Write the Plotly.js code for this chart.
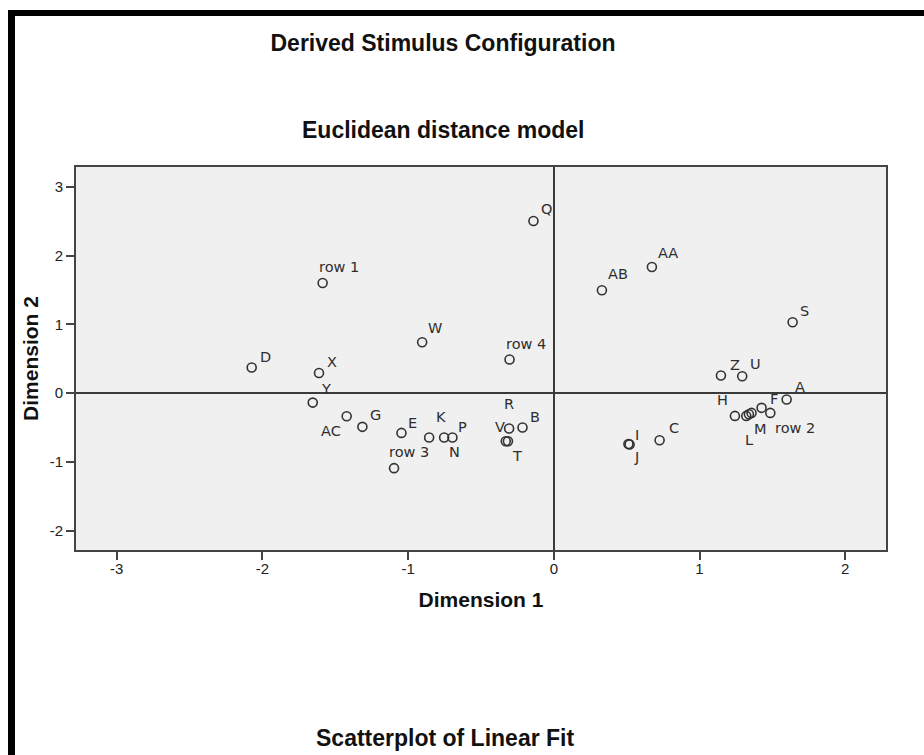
<!DOCTYPE html>
<html>
<head>
<meta charset="utf-8">
<script src="https://cdn.plot.ly/plotly-3.0.1.min.js"></script>
<style>
  html, body { margin: 0; padding: 0; background: #ffffff; }
  #chart { width: 924px; height: 755px; }
</style>
</head>
<body>
<div id="chart"></div>
<script>
// ---- data ----
const stimulusNames = ["D", "row 1", "Q", "W", "row 4", "X", "AB", "AA", "S", "Z", "U",
  "Y", "AC", "G", "E", "row 3", "K", "N", "P", "R", "B", "V", "T",
  "I", "J", "C", "H", "L", "O", "M", "F", "row 2", "A"];
const dimension1 = [-2.074, -1.587, -0.140, -0.904, -0.304, -1.612, 0.330, 0.673, 1.639, 1.147, 1.293,
  -1.655, -1.422, -1.314, -1.046, -1.097, -0.856, -0.753, -0.696, -0.307, -0.215, -0.330, -0.315,
  0.512, 0.520, 0.726, 1.243, 1.321, 1.339, 1.357, 1.426, 1.486, 1.598];
const dimension2 = [0.374, 1.603, 2.505, 0.741, 0.490, 0.295, 1.497, 1.836, 1.032, 0.257, 0.247,
  -0.136, -0.334, -0.489, -0.577, -1.090, -0.644, -0.644, -0.644, -0.514, -0.499, -0.698, -0.698,
  -0.738, -0.744, -0.683, -0.330, -0.330, -0.305, -0.286, -0.213, -0.286, -0.092];
const xTickVals = [-3, -2, -1, 0, 1, 2];
const xTickText = ["-3", "-2", "-1", "0", "1", "2"];
const yTickVals = [-2, -1, 0, 1, 2, 3];
const yTickText = ["-2", "-1", "0", "1", "2", "3"];

// ---- label placement (layout only): [dx px, dy px (text centre), anchor] ----
const labelPlacement = {
  "D": [7, -11, "left"], "row 1": [-5, -16, "left"], "Q": [7, -12, "left"], "W": [5, -14, "left"],
  "row 4": [-5, -16, "left"], "X": [7, -11, "left"], "AB": [5, -16, "left"], "AA": [5, -14, "left"],
  "S": [6, -11, "left"], "Z": [8, -11, "left"], "U": [7, -12, "left"], "Y": [7, -14, "left"],
  "AC": [-5, 15, "right"], "G": [7, -12, "left"], "E": [6, -10, "left"], "row 3": [-6, -16, "left"],
  "K": [6, -21, "left"], "N": [4, 14, "left"], "P": [5, -11, "left"], "R": [0, -25, "center"],
  "B": [6, -11, "left"], "V": [0, -14, "right"], "T": [3, 15, "left"], "I": [6, -9, "left"],
  "J": [3, 13, "left"], "C": [8, -12, "left"], "H": [-6, -16, "right"], "L": [-2, 24, "left"],
  "M": [1, 16, "left"], "F": [7, -9, "left"], "row 2": [4, 15, "left"], "A": [7, -13, "left"]
};

const W = 924, H = 755;
const plotL = 76, plotR = 886, plotT = 167, plotB = 550;
const pw = plotR - plotL, ph = plotB - plotT;
const px2paperX = p => (p - plotL) / pw;
const px2paperY = p => (plotB - p) / ph;

const TITLE_FONT = "Liberation Sans, Arial, sans-serif";
const LABEL_FONT = "DejaVu Sans, Verdana, sans-serif";

const trace = {
  type: "scatter",
  mode: "markers",
  x: dimension1,
  y: dimension2,
  text: stimulusNames,
  hoverinfo: "text",
  marker: { symbol: "circle-open", size: 9, color: "#333333", line: { width: 1.6, color: "#333333" } },
  showlegend: false
};

const annotations = [];
stimulusNames.forEach((name, i) => {
  const p = labelPlacement[name];
  if (!p) return;
  annotations.push({
    x: dimension1[i], y: dimension2[i], xref: "x", yref: "y",
    text: name, showarrow: false,
    xanchor: p[2], yanchor: "middle",
    xshift: p[0], yshift: -p[1], borderpad: 0,
    font: { family: LABEL_FONT, size: 14.5, color: "#2e2e2e" }
  });
});

annotations.push({
  text: "Euclidean distance model", showarrow: false,
  xref: "paper", yref: "paper", x: px2paperX(443), y: px2paperY(130),
  xanchor: "center", yanchor: "middle",
  font: { family: TITLE_FONT, size: 23, color: "#111111", weight: "bold" }
});
annotations.push({
  text: "Scatterplot of Linear Fit", showarrow: false,
  xref: "paper", yref: "paper", x: px2paperX(445), y: px2paperY(738),
  xanchor: "center", yanchor: "middle",
  font: { family: TITLE_FONT, size: 23, color: "#111111", weight: "bold" }
});

const axisCommon = {
  showgrid: false,
  zeroline: true, zerolinecolor: "#3a3a3a", zerolinewidth: 2,
  showline: true, mirror: true, linecolor: "#444444", linewidth: 2,
  ticks: "outside", ticklen: 8, tickwidth: 2, tickcolor: "#444444",
  tickfont: { family: TITLE_FONT, size: 15, color: "#222222" },
  fixedrange: true
};

const layout = {
  width: W, height: H,
  margin: { l: plotL, r: W - plotR, t: plotT, b: H - plotB, pad: 0 },
  paper_bgcolor: "#ffffff",
  plot_bgcolor: "#f0f0f0",
  title: {
    text: "Derived Stimulus Configuration",
    x: 443 / W, xanchor: "center", xref: "container",
    y: 1 - 43 / H, yanchor: "middle", yref: "container",
    font: { family: TITLE_FONT, size: 23, color: "#111111", weight: "bold" }
  },
  xaxis: Object.assign({}, axisCommon, {
    range: [-3.28, 2.28],
    tickmode: "array", tickvals: xTickVals, ticktext: xTickText,
    ticklabelstandoff: -4,
    title: { text: "Dimension 1", standoff: 16,
      font: { family: TITLE_FONT, size: 21, color: "#111111", weight: "bold" } }
  }),
  yaxis: Object.assign({}, axisCommon, {
    range: [-2.28, 3.29],
    tickmode: "array", tickvals: yTickVals, ticktext: yTickText,
    title: { text: "Dimension 2", standoff: 5,
      font: { family: TITLE_FONT, size: 21, color: "#111111", weight: "bold" } }
  }),
  annotations: annotations,
  shapes: [
    { type: "rect", xref: "paper", yref: "paper", layer: "above",
      x0: px2paperX(8), x1: px2paperX(924), y0: px2paperY(16), y1: px2paperY(10),
      fillcolor: "#000000", line: { width: 0 } },
    { type: "rect", xref: "paper", yref: "paper", layer: "above",
      x0: px2paperX(8), x1: px2paperX(15), y0: px2paperY(755), y1: px2paperY(10),
      fillcolor: "#000000", line: { width: 0 } }
  ],
  hovermode: "closest"
};

Plotly.newPlot("chart", [trace], layout, { displayModeBar: false, staticPlot: true });
</script>
</body>
</html>
